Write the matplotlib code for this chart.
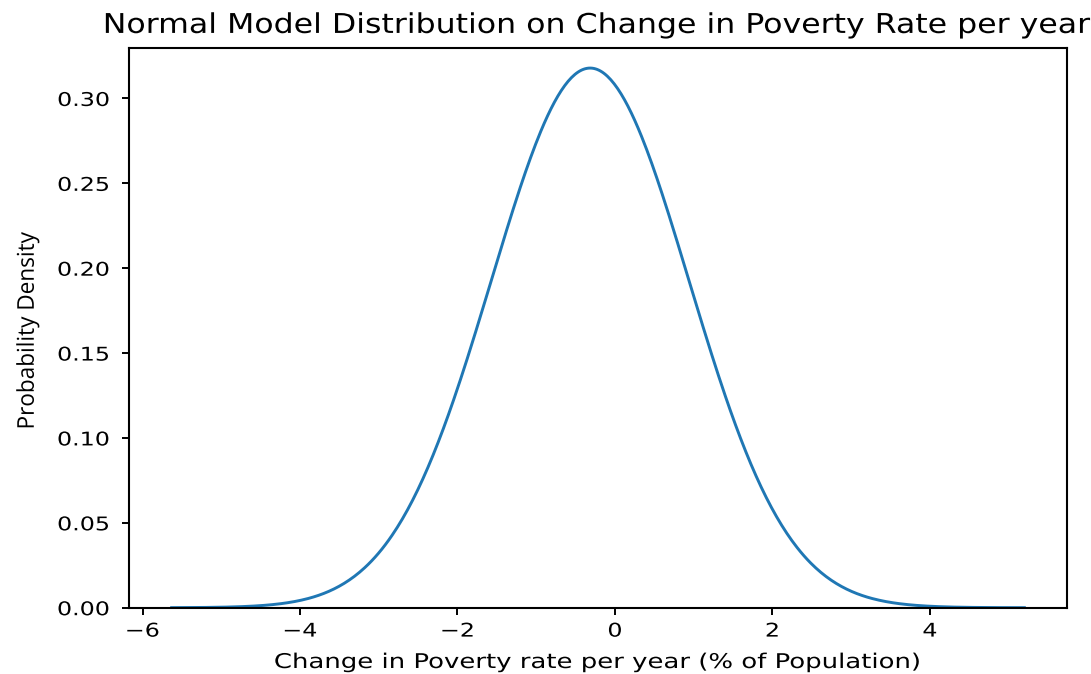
import numpy as np
import matplotlib
matplotlib.use('Agg')
import matplotlib.pyplot as plt
from matplotlib import patheffects
from matplotlib.transforms import Affine2D

# normal model fitted to the yearly change in poverty rate
mean_change = -0.315
std_change = 1.255
x_start = -5.63
x_end = 5.2

x_ticks = [-6, -4, -2, 0, 2, 4]
y_ticks = [0.00, 0.05, 0.10, 0.15, 0.20, 0.25, 0.30]

x = np.linspace(x_start, x_end, 500)
density = np.exp(-0.5 * ((x - mean_change) / std_change) ** 2) / (std_change * np.sqrt(2 * np.pi))


class Stretch(patheffects.AbstractPathEffect):
    """Draw text scaled in display space (wide figure look)."""

    def __init__(self, sx=1.0, sy=1.0, anchor='center'):
        super().__init__()
        self._sx = sx
        self._sy = sy
        self._anchor = anchor

    def draw_path(self, renderer, gc, tpath, affine, rgbFace=None):
        box = affine.transform_path(tpath).get_extents()
        cx = box.x1 if self._anchor == 'right' else (box.x0 + box.x1) / 2
        cy = (box.y0 + box.y1) / 2
        warp = Affine2D().translate(-cx, -cy).scale(self._sx, self._sy).translate(cx, cy)
        renderer.draw_path(gc, tpath, affine + warp, rgbFace)


SX = 1.28
W, H = 1091, 674

fig = plt.figure(figsize=(W / 100, H / 100), dpi=100)
ax = fig.add_axes([129 / W, 1 - 607.7 / H, (1067 - 129) / W, (607.7 - 47.5) / H])
ax.plot(x, density, color='#1f77b4', linewidth=2.1)

ax.set_xticks(x_ticks)
ax.set_yticks(y_ticks)
ax.set_ylim(0, 0.33)
ax.tick_params(labelsize=13.6, width=1.4, length=5)
ax.tick_params(axis='x', pad=5)
ax.tick_params(axis='y', pad=9)
for s in ax.spines.values():
    s.set_linewidth(1.5)

ax.set_title('Normal Model Distribution on Change in Poverty Rate per year',
             fontsize=19.6, pad=10.5, path_effects=[Stretch(1.16)])
ax.set_xlabel('Change in Poverty rate per year (% of Population)', fontsize=14.6,
              path_effects=[Stretch(SX)])
ax.xaxis.set_label_coords(0.5, (607.7 - 653) / (607.7 - 47.5))
ax.set_ylabel('Probability Density', fontsize=14.5, family='Open Sans',
              path_effects=[Stretch(1.15, 1.12)])
ax.yaxis.set_label_coords((38 - 129) / (1067 - 129), 0.495)

for lab in ax.get_xticklabels():
    lab.set_path_effects([Stretch(1.26)])
for lab in ax.get_yticklabels():
    lab.set_path_effects([Stretch(1.26, anchor='right')])

fig.savefig('out.png', dpi=100)
